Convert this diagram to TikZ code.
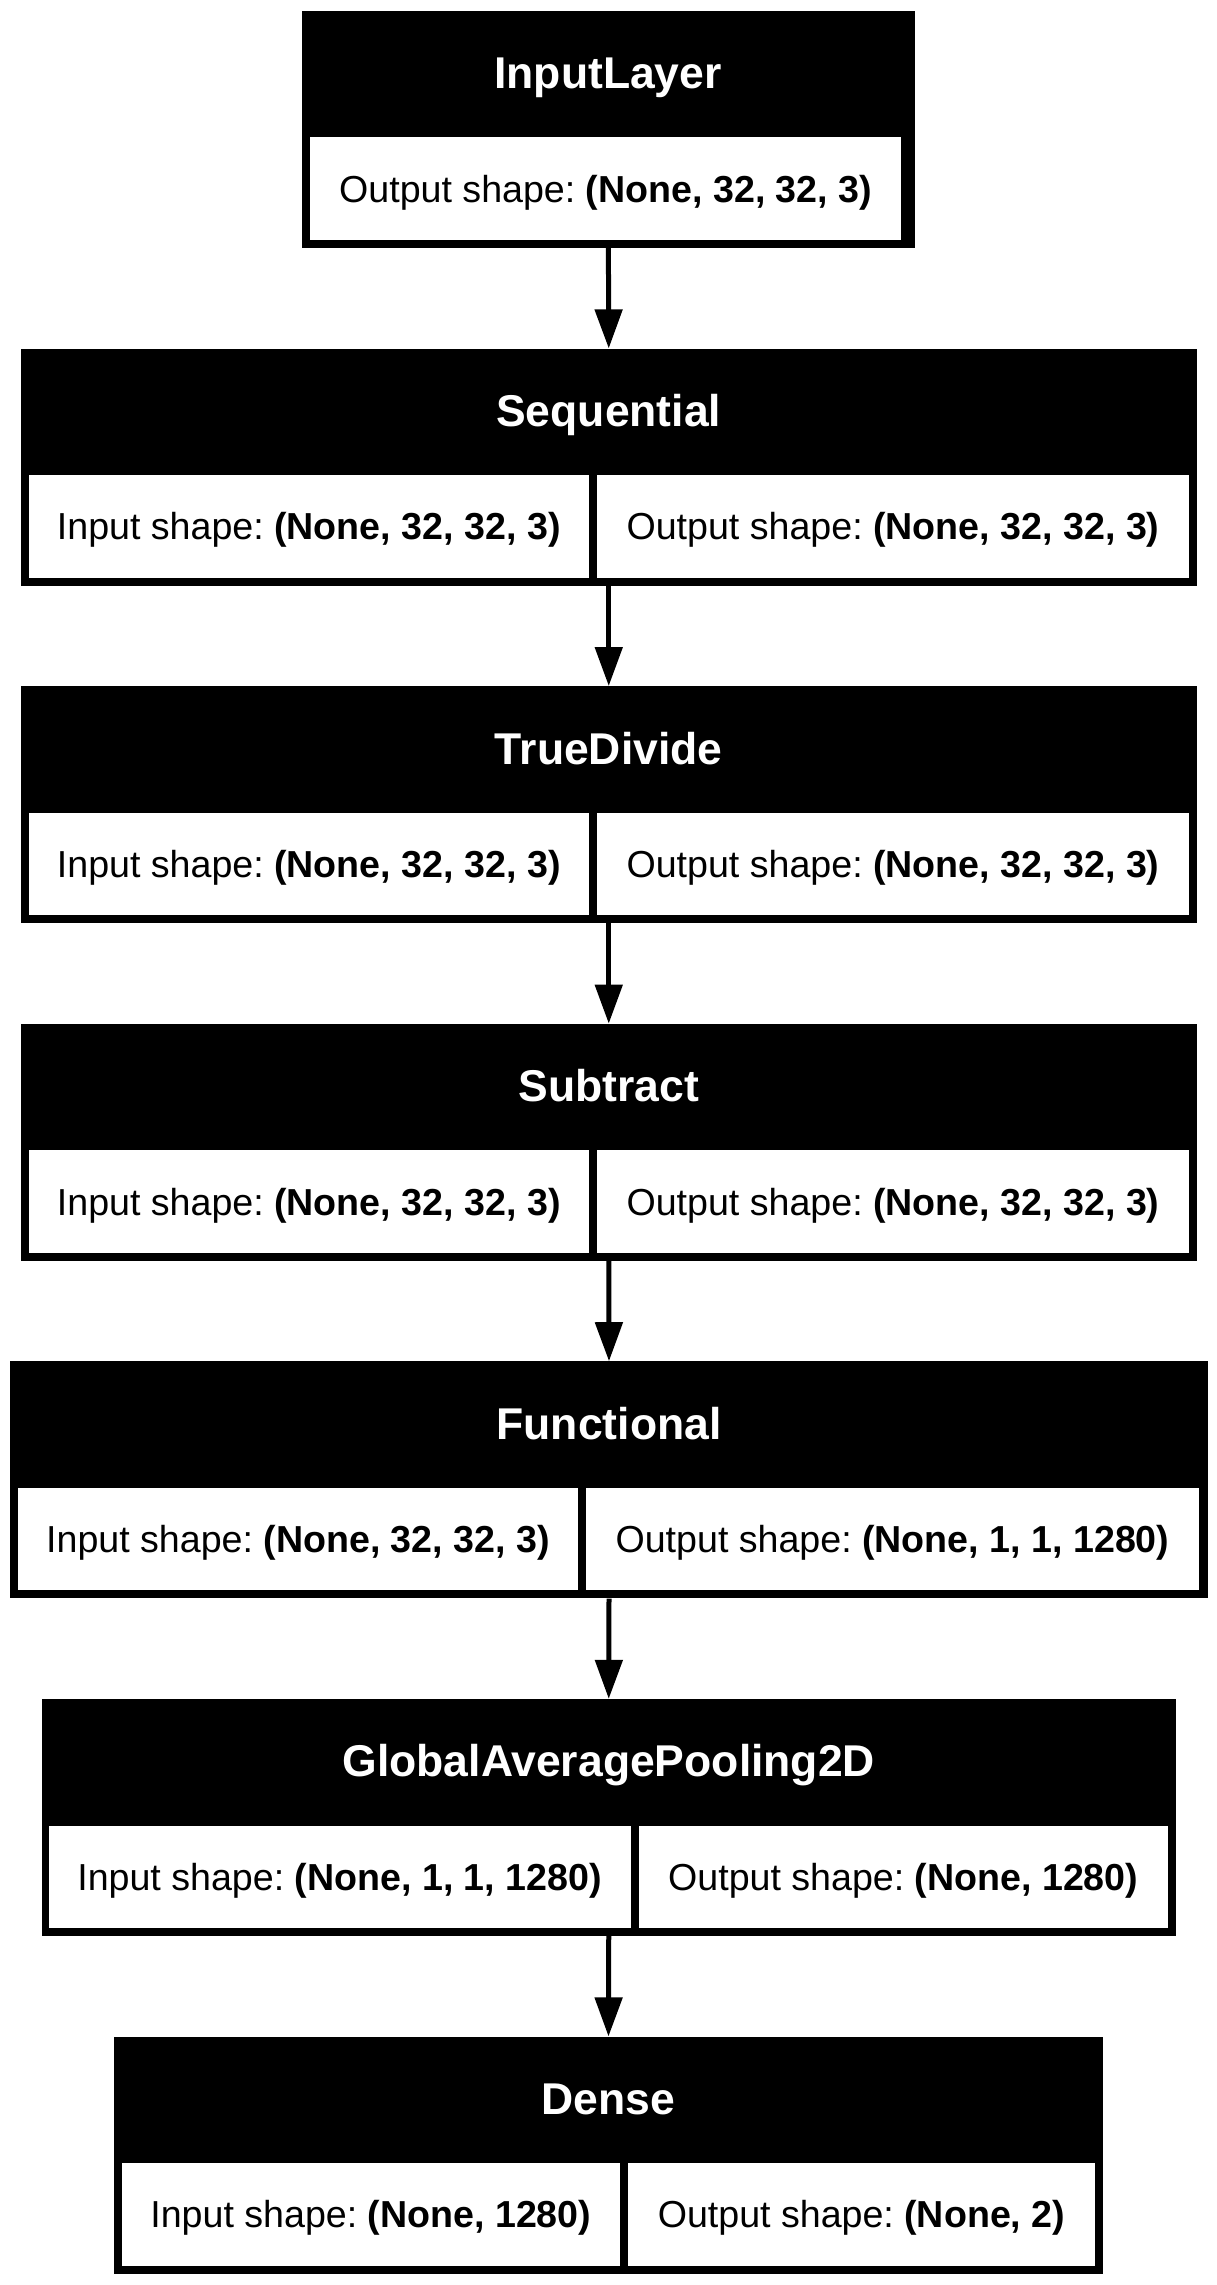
\documentclass[tikz,border=0pt]{standalone}
\usepackage{fontspec}
\setmainfont{Liberation Sans}
\usepackage{tikz}
\usetikzlibrary{arrows.meta}

\newcommand{\cellfont}{\fontsize{37.6}{45}\selectfont}
\newcommand{\headfont}{\fontsize{44.5}{53}\selectfont\bfseries}
\frenchspacing

\begin{document}
\begin{tikzpicture}[x=1pt,y=-1pt]
		\tikzstyle{layer}=[fill=black, inner sep=0pt, minimum height=237pt]
		\tikzstyle{layer_text}=[text=white, font=\headfont, inner sep=0pt, text height=31.9pt, text depth=0pt]
		\tikzstyle{cell}=[fill=white, inner sep=0pt, minimum height=102.5pt, font=\cellfont, text height=26.9pt, text depth=0pt]
		\tikzstyle{arrow}=[line width=5pt, -{Triangle[length=39pt,width=27pt]}]

		\fill[white] (0,0) rectangle (1217,2285);
		\useasboundingbox (0,0) rectangle (1217,2285);

		\begin{scope}[shift={(0,11)}]
			\node [layer, minimum width=613.6pt] (input) at (608.4,118.5) {};
			\node [layer_text] at (608,62) {InputLayer};
			\node [cell, minimum width=591.3pt] (input-out) at (605.65,177.75) {Output shape: \textbf{(None, 32, 32, 3)}};
		\end{scope}

		\begin{scope}[shift={(0,348.6)}]
			\node [layer, minimum width=1176.5pt] (seq) at (608.75,118.5) {};
			\node [layer_text] at (608.75,62) {Sequential};
			\node [cell, minimum width=560.5pt] (seq-in) at (308.75,177.75) {Input shape: \textbf{(None, 32, 32, 3)}};
			\node [cell, minimum width=592pt] (seq-out) at (893,177.75) {Output shape: \textbf{(None, 32, 32, 3)}};
		\end{scope}

		\begin{scope}[shift={(0,686.2)}]
			\node [layer, minimum width=1176.5pt] (div) at (608.75,118.5) {};
			\node [layer_text] at (608.75,62) {TrueDivide};
			\node [cell, minimum width=560.5pt] (div-in) at (308.75,177.75) {Input shape: \textbf{(None, 32, 32, 3)}};
			\node [cell, minimum width=592pt] (div-out) at (893,177.75) {Output shape: \textbf{(None, 32, 32, 3)}};
		\end{scope}

		\begin{scope}[shift={(0,1023.8)}]
			\node [layer, minimum width=1176.5pt] (sub) at (608.75,118.5) {};
			\node [layer_text] at (608.75,62) {Subtract};
			\node [cell, minimum width=560.5pt] (sub-in) at (308.75,177.75) {Input shape: \textbf{(None, 32, 32, 3)}};
			\node [cell, minimum width=592pt] (sub-out) at (893,177.75) {Output shape: \textbf{(None, 32, 32, 3)}};
		\end{scope}

		\begin{scope}[shift={(0,1361.4)}]
			\node [layer, minimum width=1198pt] (func) at (609,118.5) {};
			\node [layer_text] at (609,62) {Functional};
			\node [cell, minimum width=560pt] (func-in) at (298,177.75) {Input shape: \textbf{(None, 32, 32, 3)}};
			\node [cell, minimum width=613pt] (func-out) at (892.5,177.75) {Output shape: \textbf{(None, 1, 1, 1280)}};
		\end{scope}

		\begin{scope}[shift={(0,1699)}]
			\node [layer, minimum width=1134.5pt] (pool) at (608.75,118.5) {};
			\node [layer_text] at (608.75,62) {GlobalAveragePooling2D};
			\node [cell, minimum width=582pt] (pool-in) at (339.6,177.75) {Input shape: \textbf{(None, 1, 1, 1280)}};
			\node [cell, minimum width=529.5pt] (pool-out) at (903.25,177.75) {Output shape: \textbf{(None, 1280)}};
		\end{scope}

		\begin{scope}[shift={(0,2036.6)}]
			\node [layer, minimum width=989pt] (dense) at (608.5,118.5) {};
			\node [layer_text] at (608.5,62) {Dense};
			\node [cell, minimum width=498.3pt] (dense-in) at (370.85,177.75) {Input shape: \textbf{(None, 1280)}};
			\node [cell, minimum width=467pt] (dense-out) at (861.5,177.75) {Output shape: \textbf{(None, 2)}};
		\end{scope}

	\path (input.south) edge [arrow] (seq.north);
	\path (seq.south) edge [arrow] (div.north);
	\path (div.south) edge [arrow] (sub.north);
	\path (sub.south) edge [arrow] (func.north);
	\path (func.south) edge [arrow] (pool.north);
	\path (pool.south) edge [arrow] (dense.north);

\end{tikzpicture}
\end{document}
